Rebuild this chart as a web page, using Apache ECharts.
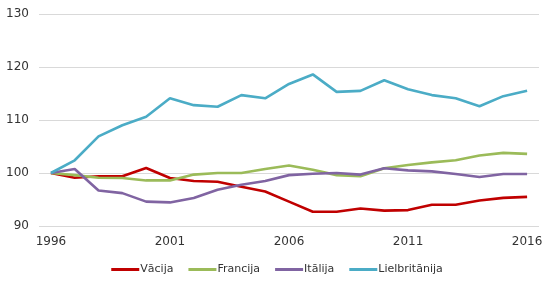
<!DOCTYPE html>
<html><head><meta charset="utf-8">
<script src="https://cdn.jsdelivr.net/npm/echarts@6/dist/echarts.min.js"></script>
<style>html,body{margin:0;padding:0;background:#fff}#c{width:554px;height:288px}</style>
</head><body><div id="c"></div>
<script>
const years = ['1996','1997','1998','1999','2000','2001','2002','2003','2004','2005','2006','2007','2008','2009','2010','2011','2012','2013','2014','2015','2016'];
const vacija = [100,99.1,99.4,99.4,100.95,99.05,98.5,98.35,97.4,96.5,94.6,92.7,92.7,93.3,92.9,93.0,94.0,94.0,94.8,95.3,95.5];
const francija = [100,99.6,99.1,99.05,98.6,98.6,99.7,100.0,100.0,100.75,101.4,100.6,99.6,99.4,100.9,101.5,102.0,102.4,103.3,103.8,103.6];
const italija = [100,100.75,96.7,96.2,94.6,94.45,95.3,96.85,97.8,98.5,99.6,99.85,100.0,99.7,100.9,100.5,100.3,99.8,99.25,99.8,99.8];
const lielbritanija = [100,102.4,106.9,109.0,110.6,114.1,112.8,112.5,114.7,114.1,116.8,118.6,115.3,115.5,117.5,115.8,114.7,114.1,112.6,114.5,115.5];
const yTicks = {min:90, max:130, interval:10};

const font = 'DejaVu Sans, Verdana, sans-serif';
const chart = echarts.init(document.getElementById('c'));
const mk = (name, data, color) => ({
  name, type:'line', data, symbol:'none', smooth:false,
  lineStyle:{width:2.6, color}, itemStyle:{color}
});
chart.setOption({
  animation:false,
  grid:{left:39, right:15, top:14, bottom:62, containLabel:false},
  xAxis:{type:'category', data:years, boundaryGap:true,
    axisLine:{show:false}, axisTick:{show:false},
    axisLabel:{interval:4, color:'#333', fontSize:12, fontFamily:font, margin:10},
    splitLine:{show:false}},
  yAxis:{type:'value', min:yTicks.min, max:yTicks.max, interval:yTicks.interval,
    axisLine:{show:false}, axisTick:{show:false},
    axisLabel:{color:'#333', fontSize:12, fontFamily:font, margin:10},
    splitLine:{lineStyle:{color:'#d9d9d9', width:1}}},
  legend:{bottom:8, left:'center', icon:'rect', itemWidth:28, itemHeight:3, itemGap:15,
    textStyle:{color:'#333', fontSize:11, fontFamily:font, padding:[0,0,0,-4]},
    data:['Vācija','Francija','Itālija','Lielbritānija']},
  series:[
    mk('Vācija', vacija, '#C00000'),
    mk('Francija', francija, '#9BBB59'),
    mk('Itālija', italija, '#8064A2'),
    mk('Lielbritānija', lielbritanija, '#4BACC6')
  ]
});
</script></body></html>
